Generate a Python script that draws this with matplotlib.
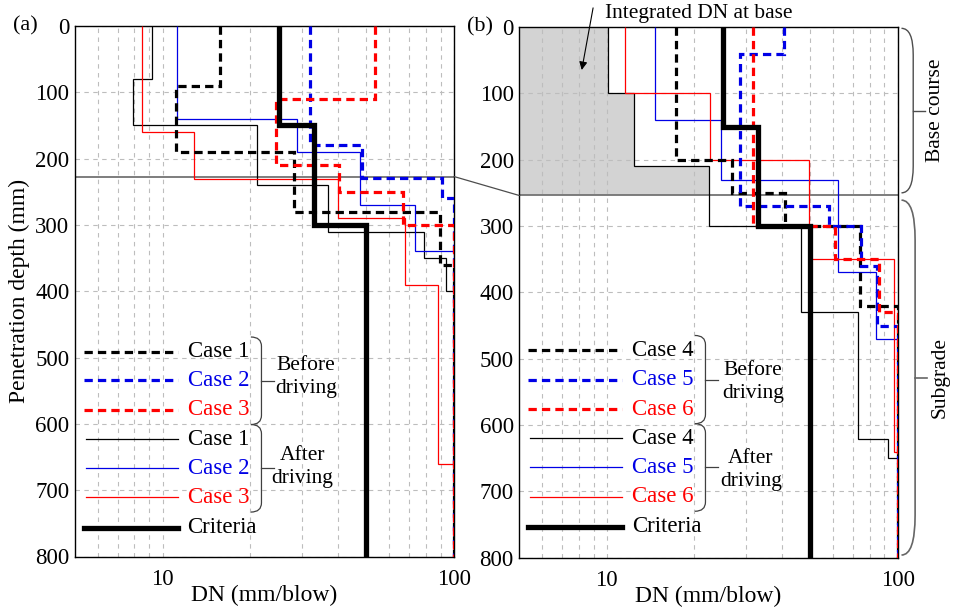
import matplotlib.pyplot as plt
from matplotlib.path import Path
from matplotlib.patches import PathPatch, ConnectionPatch
from matplotlib.ticker import NullFormatter

plt.rcParams['font.family'] = ['Liberation Serif', 'DejaVu Serif']

# ---- panel (a): layer boundaries (mm) and DN (mm/blow) ----
a_before_depth = [[0, 90, 190, 280, 360, 800],
                  [0, 180, 229, 260, 800],
                  [0, 110, 210, 250, 300, 800]]
a_before_dn = [[15.7, 11.1, 28.2, 89.8, 100],
               [32.1, 48.3, 90.8, 100],
               [53.4, 24.4, 40.2, 67.0, 100]]
a_after_depth = [[0, 80, 150, 240, 310, 350, 400, 800],
                 [0, 140, 190, 270, 340, 800],
                 [0, 160, 230, 290, 390, 660, 800]]
a_after_dn = [[9.2, 7.9, 21.1, 36.8, 79.1, 93.9, 100],
              [11.2, 29.0, 47.7, 73.7, 100],
              [8.5, 12.8, 40.0, 68.1, 87.9, 100]]

# ---- panel (b) ----
b_before_depth = [[0, 200, 250, 300, 420, 800],
                  [0, 40, 270, 300, 361, 450, 800],
                  [0, 300, 350, 430, 800]]
b_before_dn = [[17.3, 26.9, 41.0, 74.3, 100],
               [40.7, 28.8, 58.0, 75.0, 84.7, 100],
               [31.9, 61.1, 86.0, 100]]
b_after_depth = [[0, 100, 210, 300, 430, 621, 650, 800],
                 [0, 140, 230, 370, 470, 800],
                 [0, 100, 200, 350, 641, 800]]
b_after_dn = [[10.1, 12.4, 22.4, 46.5, 73.3, 92.5, 100],
              [14.6, 24.6, 62.1, 84.3, 100],
              [11.55, 22.7, 49.5, 97.3, 100]]

criteria_depth = [0, 150, 300, 800]
criteria_dn = [25, 33, 50]

# integrated DN at base (panel b)
shade_depth = [0, 100, 210, 254]
shade_dn = [10.1, 12.4, 22.4]

a_base = 227
b_base = 254

a_names = ['Case 1', 'Case 2', 'Case 3']
b_names = ['Case 4', 'Case 5', 'Case 6']
colors = ['black', '#0000e6', '#ff0000']
minor_x = [6, 7, 8, 9, 20, 30, 40, 50, 60, 70, 80, 90]

W, H = 956, 610
fig = plt.figure(figsize=(W / 100, H / 100), dpi=100)


def px_axes(l, t, r, b):
    return fig.add_axes([l / W, 1 - b / H, (r - l) / W, (b - t) / H])


ax1 = px_axes(75, 26, 454, 556.5)
ax2 = px_axes(519.3, 27, 897.7, 557.7)

dash = (0, (2.6, 1.6))


def brace(ax, x0, x1, xt, y0, y1, r, color='k', lw=0.9):
    tr = ax.get_yaxis_transform()
    ym = (y0 + y1) / 2
    verts = [(x0, y0), (x1, y0), (x1, y0 + r), (x1, y1 - r), (x1, y1), (x0, y1)]
    codes = [Path.MOVETO, Path.CURVE3, Path.CURVE3, Path.LINETO, Path.CURVE3, Path.CURVE3]
    ax.add_patch(PathPatch(Path(verts, codes), fill=False, ec=color, lw=lw,
                           transform=tr, clip_on=False))
    ax.plot([x1, xt], [ym, ym], color=color, lw=lw, transform=tr, clip_on=False)


def draw_panel(ax, bd, bv, ad, av, names, rows, lx, before_txt, after_txt):
    ax.set_xscale('log')
    ax.set_xlim(5, 100)
    ax.set_ylim(800, 0)
    ax.set_yticks(range(0, 801, 100))
    ax.set_xticks([10, 100])
    ax.set_xticklabels(['10', '100'])
    ax.set_xticks(minor_x, minor=True)
    ax.xaxis.set_minor_formatter(NullFormatter())
    ax.tick_params(which='both', length=0, labelsize=16.5)
    ax.tick_params(axis='x', pad=9)
    ax.tick_params(axis='y', pad=4)
    ax.grid(which='both', color='#bdbdbd', linestyle=(0, (4, 4)), lw=0.8)
    ax.set_axisbelow(True)
    ax.set_xlabel('DN (mm/blow)', fontsize=17, labelpad=-4)
    for sp in ax.spines.values():
        sp.set_linewidth(1.0)

    for i in range(3):
        ax.stairs(av[i], ad[i], orientation='horizontal', baseline=None,
                  color=colors[i], lw=0.9, zorder=3)
    for i in range(3):
        ax.stairs(bv[i], bd[i], orientation='horizontal', baseline=None,
                  color=colors[i], lw=2.3, linestyle=dash, zorder=4)
    ax.stairs(criteria_dn, criteria_depth, orientation='horizontal', baseline=None,
              color='black', lw=3.8, zorder=5)

    # custom legend
    tr = ax.get_yaxis_transform()
    x0, x1, xt = lx
    for i in range(3):
        ax.plot([x0, x1], [rows[i], rows[i]], color=colors[i], lw=2.3,
                linestyle=dash, transform=tr)
        ax.text(xt, rows[i], names[i], color=colors[i], fontsize=16.5,
                va='center', transform=tr)
        ax.plot([x0 + 0.006, x1], [rows[i + 3], rows[i + 3]], color=colors[i],
                lw=0.9, transform=tr)
        ax.text(xt, rows[i + 3], names[i], color=colors[i], fontsize=16.5,
                va='center', transform=tr)
    ax.plot([x0, x1], [rows[6], rows[6]], color='black', lw=3.8, transform=tr)
    ax.text(xt, rows[6], 'Criteria', fontsize=16.5, va='center', transform=tr)

    bx = xt + 0.167
    brace(ax, bx, bx + 0.028, bx + 0.06, rows[0] - 22, rows[2] + 22, 14, color='0.25')
    brace(ax, bx, bx + 0.028, bx + 0.06, rows[3] - 22, rows[5] + 22, 14, color='0.25')
    ax.text(before_txt[0], before_txt[1], 'Before\ndriving', fontsize=15.5, ha='center',
            va='center', linespacing=1.25, transform=tr)
    ax.text(after_txt[0], after_txt[1], 'After\ndriving', fontsize=15.5, ha='center',
            va='center', linespacing=1.25, transform=tr)


draw_panel(ax1, a_before_depth, a_before_dn, a_after_depth, a_after_dn, a_names,
           [491, 534, 579, 623, 667, 711, 757], (0.024, 0.272, 0.297),
           (0.61, 529), (0.60, 665))
draw_panel(ax2, b_before_depth, b_before_dn, b_after_depth, b_after_dn, b_names,
           [487, 532, 576, 620, 664, 708, 753], (0.023, 0.271, 0.297),
           (0.618, 535), (0.612, 668))

ax1.set_ylabel('Penetration depth (mm)', fontsize=17, labelpad=4)

# base lines
ax1.axhline(a_base, color='0.45', lw=1.3, zorder=2)
ax2.axhline(b_base, color='0.45', lw=1.3, zorder=2)
con = ConnectionPatch(xyA=(100, a_base), coordsA=ax1.transData,
                      xyB=(5, b_base), coordsB=ax2.transData,
                      color='0.3', lw=0.9)
fig.add_artist(con)

# shaded integrated DN (grid stays visible on top)
ax2.stairs(shade_dn, shade_depth, orientation='horizontal', baseline=5, fill=True,
           color='#d3d3d3', zorder=0.3)
ax2.annotate('', xy=(0.165, 0.919), xytext=(0.195, 1.036), xycoords='axes fraction',
             arrowprops=dict(arrowstyle='-|>', color='black', lw=0.8,
                             mutation_scale=12, shrinkA=0, shrinkB=0),
             annotation_clip=False)
ax2.text(0.475, 1.026, 'Integrated DN at base', transform=ax2.transAxes,
         fontsize=15.4, ha='center', va='center')

# layer braces
brace(ax2, 1.01, 1.041, 1.072, 2, 250, 40, color='0.3', lw=1.0)
brace(ax2, 1.01, 1.046, 1.077, 261, 796, 60, color='0.4', lw=1.2)
ax2.text(1.099, 125, 'Base course', rotation=90, fontsize=15.5, ha='center',
         va='center', transform=ax2.get_yaxis_transform())
ax2.text(1.112, 528, 'Subgrade', rotation=90, fontsize=15.5, ha='center',
         va='center', transform=ax2.get_yaxis_transform())

fig.text(25 / W, 1 - 26 / H, '(a)', fontsize=16, ha='center', va='center')
fig.text(480 / W, 1 - 27 / H, '(b)', fontsize=16, ha='center', va='center')

fig.savefig('out.png', dpi=100)
